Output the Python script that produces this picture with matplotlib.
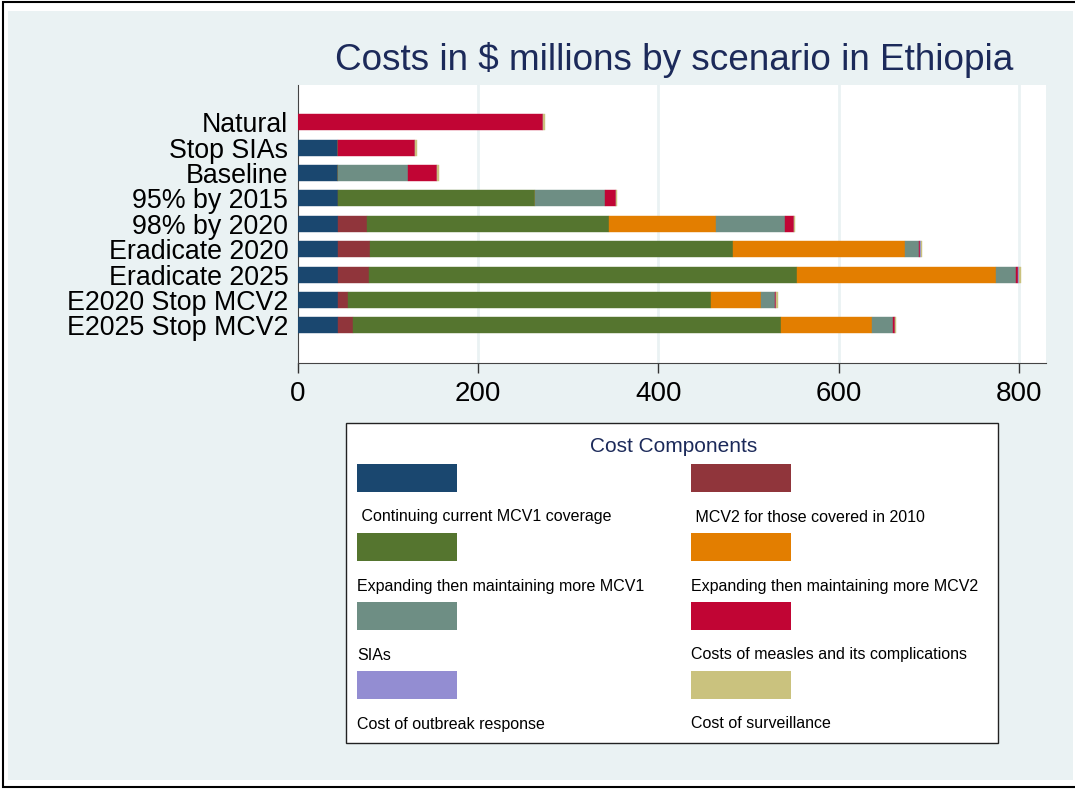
import matplotlib
matplotlib.use("Agg")
import matplotlib.pyplot as plt
from matplotlib.patches import Rectangle
import numpy as np

# scenarios (top to bottom)
scenarios = ["Natural", "Stop SIAs", "Baseline", "95% by 2015", "98% by 2020",
             "Eradicate 2020", "Eradicate 2025", "E2020 Stop MCV2", "E2025 Stop MCV2"]

# cost components, $ millions, one value per scenario
mcv1_current = [0, 44.6, 44.6, 44.6, 44.6, 44.6, 44.6, 44.6, 44.6]
mcv2_2010 = [0, 0, 0, 0, 32.4, 35.4, 34.2, 11.2, 16.1]
mcv1_expand = [0, 0, 0, 218.3, 268.4, 402.9, 474.4, 402.6, 475.1]
mcv2_expand = [0, 0, 0, 0, 118.2, 190.4, 221.5, 55.7, 100.7]
sias = [0, 0, 77, 78, 77, 15.6, 22.3, 15, 24.1]
measles = [272, 85.5, 33, 11.8, 9.3, 1.5, 2.2, 1.5, 1.5]
outbreak = [0, 0, 0, 0, 1, 0.5, 0.5, 0, 0]
surveillance = [2, 1.5, 1.5, 1.5, 1, 1, 2.5, 2, 2]

component_names = [" Continuing current MCV1 coverage", " MCV2 for those covered in 2010",
                   "Expanding then maintaining more MCV1", "Expanding then maintaining more MCV2",
                   "SIAs", "Costs of measles and its complications",
                   "Cost of outbreak response", "Cost of surveillance"]
component_values = [mcv1_current, mcv2_2010, mcv1_expand, mcv2_expand,
                    sias, measles, outbreak, surveillance]
# Stata s2color palette
colors = ["#1a476f", "#90353b", "#55752f", "#e37e00",
          "#6e8e84", "#c10534", "#938dd2", "#cac27e"]

bg = "#eaf2f3"
plt.rcParams["font.family"] = ["Liberation Sans", "DejaVu Sans"]

W, H = 1075, 789
fig = plt.figure(figsize=(W / 100, H / 100), dpi=100)
fig.patch.set_facecolor("white")


def fx(x):
    return x / W


def fy(y):
    return 1 - y / H


# outer frame and graph region background
fig.patches.append(Rectangle((fx(3), fy(787)), fx(1080), fy(2) - fy(787), transform=fig.transFigure,
                             facecolor="white", edgecolor="black", linewidth=1.5, zorder=-2))
fig.patches.append(Rectangle((fx(8), fy(780)), fx(1065), fy(11) - fy(780), transform=fig.transFigure,
                             facecolor=bg, edgecolor="none", zorder=-1))

ax = fig.add_axes([fx(298), fy(363), fx(1046) - fx(298), fy(85) - fy(363)])
ax.set_zorder(1)
ax.set_facecolor("white")

y = np.arange(len(scenarios))
left = np.zeros(len(scenarios))
for vals, col in zip(component_values, colors):
    vals = np.array(vals, dtype=float)
    ax.barh(y, vals, left=left, height=0.63, color=col, edgecolor=col, linewidth=0.3, zorder=3)
    left += vals

ax.set_ylim(len(scenarios) - 1 + 1.48, -1.46)
ax.set_xlim(0, 830)
ax.set_yticks(y)
ax.set_yticklabels(scenarios, fontsize=19.3)
ax.set_xticks([0, 200, 400, 600, 800])
ax.set_xticklabels(["0", "200", "400", "600", "800"], fontsize=20)
ax.tick_params(axis="y", length=0, pad=7)
ax.tick_params(axis="x", length=7, width=1, color="#333333", pad=6)
for xg in [200, 400, 600, 800]:
    ax.axvline(xg, color=bg, linewidth=2, zorder=1)
for s in ["top", "right"]:
    ax.spines[s].set_visible(False)
ax.spines["left"].set_color("#444444")
ax.spines["bottom"].set_color("#444444")

fig.text(fx(674), fy(60), "Costs in $ millions by scenario in Ethiopia", ha="center", va="center",
         fontsize=26.6, color="#1c2a5a")

# legend box
fig.patches.append(Rectangle((fx(346), fy(743)), fx(998) - fx(346), fy(423) - fy(743),
                             transform=fig.transFigure, facecolor="white", edgecolor="#222222",
                             linewidth=1, zorder=2))
fig.text(fx(674), fy(447), "Cost Components", ha="center", va="center", fontsize=15,
         color="#1c2a5a", zorder=3)
col_x = [357, 691]
sw_y = [464, 533, 602, 671]
for i, (name, col) in enumerate(zip(component_names, colors)):
    cx = col_x[i % 2]
    ry = sw_y[i // 2]
    fig.patches.append(Rectangle((fx(cx), fy(ry + 28)), fx(100), fy(ry) - fy(ry + 28),
                                 transform=fig.transFigure, facecolor=col, edgecolor="none", zorder=3))
    fig.text(fx(cx), fy(ry + 53), name, ha="left", va="center", fontsize=11.5,
             color="black", zorder=3)

fig.savefig("out.png", dpi=100, facecolor="white")
